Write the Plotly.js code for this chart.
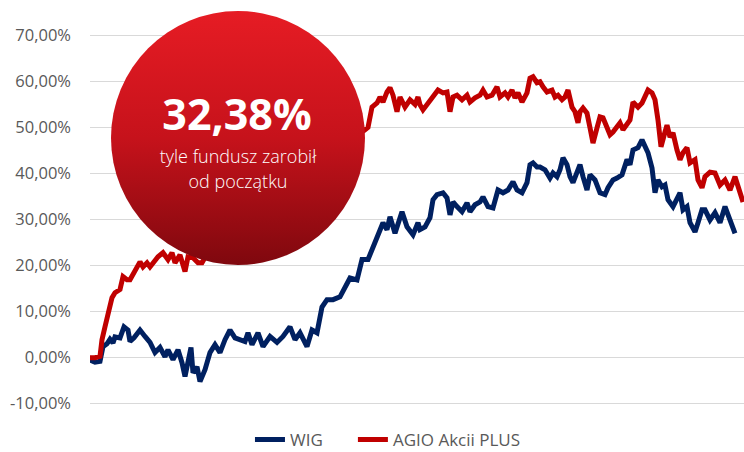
<!DOCTYPE html>
<html><head><meta charset="utf-8">
<script src="https://cdn.plot.ly/plotly-3.0.1.min.js"></script>
<style>
html,body{margin:0;padding:0;background:#fff;}
#wrap{position:relative;width:744px;height:452px;overflow:hidden;}
#chart{position:absolute;left:0;top:0;width:744px;height:452px;}
#badge{position:absolute;left:0;top:0;pointer-events:none;}
</style>
</head><body>
<div id="wrap"><div id="chart"></div>
<svg id="badge" width="744" height="452">
  <defs><linearGradient id="g" x1="0" y1="0" x2="0" y2="1">
    <stop offset="0" stop-color="#e61c24"/><stop offset="0.5" stop-color="#c6121b"/><stop offset="1" stop-color="#7f080e"/>
  </linearGradient></defs>
  <circle cx="238" cy="138" r="127" fill="url(#g)"/>
  <text id="bigVal" x="237" y="130" text-anchor="middle" font-family="Open Sans" font-weight="700" font-size="43" fill="#fff"></text>
  <text id="sub1" x="238" y="163" text-anchor="middle" font-family="Open Sans" font-weight="300" font-size="18" fill="#fff"></text>
  <text id="sub2" x="238" y="188" text-anchor="middle" font-family="Open Sans" font-weight="300" font-size="18" fill="#fff"></text>
</svg>
</div>
<script>
// Trading-session index and cumulative return (%)
const wigDays = [0,5,10,13,17,20,23,25,30,34,38,40,44,47,50,55,60,65,70,75,78,83,88,92,95,101,103,107,110,115,120,125,130,135,140,145,150,155,158,162,168,173,180,187,193,200,205,210,217,222,227,232,237,243,250,255,260,267,272,278,283,288,293,297,300,305,308,312,317,323,328,330,335,340,343,347,353,357,360,363,367,372,377,380,385,390,393,398,403,408,413,418,423,427,432,437,440,443,447,450,455,460,463,467,470,473,477,480,483,487,490,493,497,500,505,510,515,518,523,527,532,537,540,543,548,552,555,558,562,565,568,572,575,578,583,587,590,593,597,600,605,608,612,615,620,625,630,635,640,645,648,653];
const wigValues = [-0.5,-1,-0.8,2.4,3.0,4,3.2,4.5,4.3,6.7,6,3.5,4.3,5.4,6,4.6,3.3,1.1,2.2,0.2,1.7,-0.4,1.7,-1.1,-4.1,2.2,-3.3,-2,-5.2,-2.6,1.1,2.8,1.1,3.9,6,4.3,3.9,3.5,5.4,2.8,5.4,2.4,4.6,3.3,4.6,6.7,3.9,5.4,2.4,6,5.4,11,12.6,12.6,13.2,15.4,17.3,16.9,21.3,21.3,24,27,29.3,27.8,30.6,27,29.3,31.7,28.4,26.7,29.3,27.8,28.4,30.4,34.3,35.4,35.8,34.7,31,33.8,32.8,31.7,33.6,31.7,33.2,33.8,34.9,32.8,32.5,36.4,35.8,36.4,38.2,36.4,35.8,38,41.9,42.3,41.4,41.4,40.8,39,40.1,39.3,40.8,43.4,41.9,39.3,38,40.4,41.9,39.3,36.4,39.7,38.6,35.8,35.4,36.9,38.6,39,39.7,43,41.9,45.1,45.6,47.3,45.8,44.5,41.2,35.8,38.6,37.1,37.5,34.3,32.8,34.7,35.8,32.1,32.8,29.3,27.3,29.3,32.1,32.1,29.9,31.5,29.3,32.8,29.9,27];
const agioDays = [0,5,10,12,15,18,22,25,30,33,37,40,43,47,50,53,57,60,65,68,73,78,82,85,90,95,98,103,108,112,117,125,135,145,155,165,175,185,195,205,215,225,235,245,255,262,268,272,275,278,282,287,290,293,297,300,303,307,310,315,320,325,328,330,333,338,343,348,353,357,360,363,367,372,377,380,385,390,393,397,402,407,410,415,418,422,425,428,432,437,440,443,447,450,453,457,462,465,468,472,475,478,482,485,488,490,493,497,500,503,507,510,513,517,520,523,527,530,533,537,540,543,548,552,555,558,562,565,568,571,575,577,580,583,587,590,593,597,600,605,608,612,615,620,625,630,635,640,645,648,653];
const agioValues = [0,0,0.3,3.9,6.7,10,13,14.1,14.8,17.6,16.9,16.9,18,19.7,20.8,19.7,20.6,19.7,21.3,21.9,22.8,21.3,22.8,20.6,22.3,18.7,21.9,21.7,20.6,20.6,22.5,24,23.5,25,24.5,26,25.5,27,26.5,28,29,31,33,36,40,44,47,49,49.5,50,54.4,55.3,56.6,55.5,57.7,58.6,57,53.4,56.6,54.4,56,55,56.6,54.9,53.8,55.3,57,58.1,57.5,57.7,53.4,56.6,57,56,57,55.5,56.4,57,58.1,56.6,57,58.8,56.6,57.5,56.6,58.1,56.4,57.5,55.5,57.5,60.7,61,59.7,59.9,58.8,57.7,58.1,56.6,57,56,56.6,58.1,54.4,53.4,51,53.4,54.2,53.1,49.9,46.6,49.9,52.3,52.1,49.5,48.4,49,50.1,51,49.5,51,51.6,55.5,54.4,55.3,56.6,58.1,57.5,56,51.6,45.8,49,50.5,47.9,48.8,45.1,43,44.5,45.6,42.3,43,38.6,36.9,39.3,40.3,40.1,37.5,38.6,36.4,39.3,36.9,33.8];
const seriesNames = ['WIG', 'AGIO Akcii PLUS'];
const tickValues = [-10,0,10,20,30,40,50,60,70];
const tickLabels = ['-10,00%','0,00%','10,00%','20,00%','30,00%','40,00%','50,00%','60,00%','70,00%'];
const headline = '32,38%';
const subLines = ['tyle fundusz zarobił', 'od początku'];

document.getElementById('bigVal').textContent = headline;
document.getElementById('sub1').textContent = subLines[0];
document.getElementById('sub2').textContent = subLines[1];

const traces = [
  {x: wigDays, y: wigValues, name: seriesNames[0], type: 'scatter', mode: 'lines',
   line: {color: '#002060', width: 5}, legend: 'legend'},
  {x: agioDays, y: agioValues, name: seriesNames[1], type: 'scatter', mode: 'lines',
   line: {color: '#c00000', width: 5}, legend: 'legend2'}
];
const legendStyle = {orientation: 'h', xanchor: 'left', y: -0.091, yanchor: 'middle',
  font: {size: 17, color: '#595959'}, bgcolor: 'rgba(0,0,0,0)'};
const layout = {
  width: 744, height: 452,
  margin: {l: 90, r: 0, t: 33, b: 46, autoexpand: false},
  paper_bgcolor: '#fff', plot_bgcolor: '#fff',
  font: {family: 'Open Sans, sans-serif', color: '#595959'},
  showlegend: true,
  legend: Object.assign({}, legendStyle, {x: 0.2446}),
  legend2: Object.assign({}, legendStyle, {x: 0.402}),
  xaxis: {range: [0, 654], showgrid: false, zeroline: false, showticklabels: false, showline: false, ticks: ''},
  yaxis: {range: [-10.5, 70.5], tickvals: tickValues, ticktext: tickLabels,
    gridcolor: '#d9d9d9', gridwidth: 1.3, zeroline: false, showline: false, ticks: '',
    ticklabelstandoff: 18, tickfont: {size: 16.5, color: '#595959'}}
};
Plotly.newPlot('chart', traces, layout, {displayModeBar: false, staticPlot: true});
</script>
</body></html>
